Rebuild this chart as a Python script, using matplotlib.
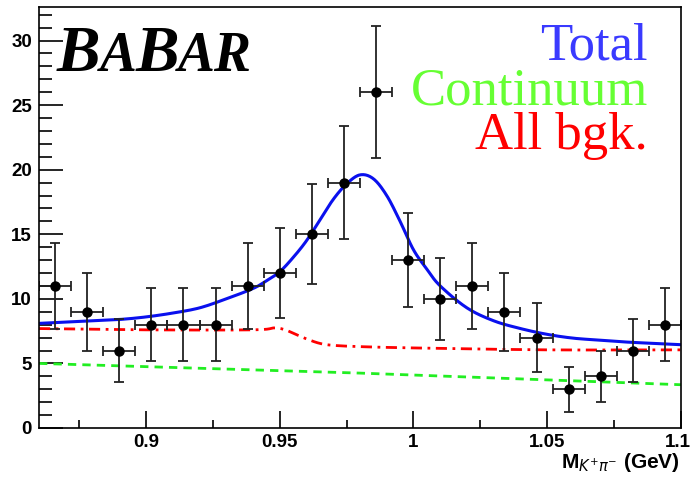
import matplotlib
matplotlib.use("Agg")
import matplotlib.pyplot as plt
import matplotlib.transforms as mtrans
import numpy as np

# ---- data ----
bin_centers = [0.866, 0.878, 0.890, 0.902, 0.914, 0.926, 0.938, 0.950, 0.962, 0.974,
               0.986, 0.998, 1.010, 1.022, 1.034, 1.046, 1.058, 1.070, 1.082, 1.094]
counts = [11, 9, 6, 8, 8, 8, 11, 12, 15, 19, 26, 13, 10, 11, 9, 7, 3, 4, 6, 8]
count_err = [3.32, 3.0, 2.45, 2.83, 2.83, 2.83, 3.32, 3.46, 3.87, 4.36,
             5.10, 3.61, 3.16, 3.32, 3.0, 2.65, 1.73, 2.0, 2.45, 2.83]
bin_half_width = 0.006

total_x = [0.860, 0.870, 0.880, 0.890, 0.900, 0.910, 0.920, 0.930, 0.940, 0.945,
           0.950, 0.955, 0.960, 0.965, 0.970, 0.975, 0.980, 0.985, 0.990, 0.995,
           1.000, 1.005, 1.010, 1.020, 1.030, 1.040, 1.050, 1.060, 1.070, 1.080,
           1.090, 1.100]
total_y = [8.1, 8.2, 8.3, 8.4, 8.6, 8.9, 9.3, 10.0, 10.8, 11.4,
           12.1, 13.2, 14.5, 16.1, 17.7, 18.9, 19.6, 19.3, 18.0, 16.0,
           13.8, 12.3, 11.0, 9.3, 8.3, 7.7, 7.25, 6.95, 6.8, 6.65,
           6.55, 6.45]

bkg_x = [0.860, 0.900, 0.940, 0.948, 0.952, 0.956, 0.960, 0.965, 0.970, 0.980,
         1.000, 1.050, 1.100]
bkg_y = [7.7, 7.6, 7.6, 7.75, 7.6, 7.25, 6.9, 6.55, 6.4, 6.3, 6.2, 6.05, 6.05]

cont_x = [0.860, 0.980, 1.100]
cont_y = [5.0, 4.25, 3.35]

xticks = [0.9, 0.95, 1.0, 1.05, 1.1]
xtick_labels = ["0.9", "0.95", "1", "1.05", "1.1"]
yticks = [0, 5, 10, 15, 20, 25, 30]
ytick_labels = ["0", "5", "10", "15", "20", "25", "30"]

legend_labels = ["Total", "Continuum", "All bgk."]
legend_colors = ["#3a3aff", "#66ff33", "#ff0000"]


def smooth(xs, ys, n=12):
    """Catmull-Rom curve through the given points (drawing only)."""
    xs = np.asarray(xs, float)
    ys = np.asarray(ys, float)
    px = np.concatenate([[2 * xs[0] - xs[1]], xs, [2 * xs[-1] - xs[-2]]])
    py = np.concatenate([[2 * ys[0] - ys[1]], ys, [2 * ys[-1] - ys[-2]]])
    ox, oy = [], []
    t = np.linspace(0, 1, n, endpoint=False)
    for i in range(1, len(px) - 2):
        for arr, out in ((px, ox), (py, oy)):
            p0, p1, p2, p3 = arr[i - 1], arr[i], arr[i + 1], arr[i + 2]
            out.extend(0.5 * ((2 * p1) + (-p0 + p2) * t
                              + (2 * p0 - 5 * p1 + 4 * p2 - p3) * t ** 2
                              + (-p0 + 3 * p1 - 3 * p2 + p3) * t ** 3))
    ox.append(xs[-1])
    oy.append(ys[-1])
    return ox, oy


# ---- figure ----
fig = plt.figure(figsize=(6.92, 4.79), dpi=100)
ax = fig.add_axes([0.0564, 0.1065, 0.984 - 0.0564, 0.9854 - 0.1065])
ax.set_xlim(0.86, 1.1)
ax.set_ylim(0, 32.6)

ax.plot(cont_x, cont_y, color="#22ee22", lw=2.0, ls=(0, (3, 2.2)))
bx, by = smooth(bkg_x, bkg_y)
ax.plot(bx, by, color="#ff0000", lw=2.0, ls=(0, (4, 2, 1, 2)))
tx, ty = smooth(total_x, total_y)
ax.plot(tx, ty, color="#0a10ee", lw=2.2)

ax.errorbar(bin_centers, counts, yerr=count_err, xerr=bin_half_width,
            fmt="o", color="black", ms=6.5, ecolor="#222222", elinewidth=1.3,
            capsize=3.5, capthick=1.3)

ax.set_xticks(xticks)
ax.set_xticklabels(xtick_labels)
ax.set_yticks(yticks)
ax.set_yticklabels(ytick_labels)
ax.set_xticks(np.arange(0.875, 1.1, 0.025).tolist(), minor=True)
ax.set_yticks(list(range(0, 33)), minor=True)
ax.tick_params(axis="x", which="major", direction="in", length=12, width=1.2,
               pad=4, labelsize=13.5)
ax.tick_params(axis="x", which="minor", direction="in", length=6, width=1.2)
ax.tick_params(axis="y", which="major", direction="in", length=17, width=1.2,
               pad=5, labelsize=13.5)
ax.tick_params(axis="y", which="minor", direction="in", length=9, width=1.2)
for lab in ax.get_xticklabels() + ax.get_yticklabels():
    lab.set_fontfamily("Liberation Sans")
    lab.set_fontweight("bold")
last = ax.xaxis.get_major_ticks()[-1].label1
last.set_transform(last.get_transform()
                   + mtrans.ScaledTranslation(-3 / 100, 0, fig.dpi_scale_trans))
for s in ax.spines.values():
    s.set_linewidth(1.2)

# x label
fig.text(0.982, 0.024, r"M$_{K^{+}\pi^{-}}$ (GeV)", ha="right", va="baseline",
         fontsize=15, fontweight="bold", family="Liberation Sans")

# legend-like texts
for i, (t, c) in enumerate(zip(legend_labels, legend_colors)):
    ax.text(648 / 692, 1 - (60 + 44.5 * i) / 479, t, transform=fig.transFigure,
            ha="right", va="baseline", fontsize=38, color=c,
            family="Liberation Serif")

# BaBar logo
letters = ["B", "A", "B", "AR"]
sizes = [47, 40, 47, 40]
fig.canvas.draw()
renderer = fig.canvas.get_renderer()
xpos = 57.0
for ltr, sz in zip(letters, sizes):
    t = fig.text(xpos / 692, 1 - 71 / 479, ltr, fontsize=sz, fontweight="bold",
                 style="italic", family="Liberation Serif", ha="left",
                 va="baseline", color="black")
    bb = t.get_window_extent(renderer=renderer)
    xpos += bb.width - 1

fig.savefig("out.png", dpi=100)
